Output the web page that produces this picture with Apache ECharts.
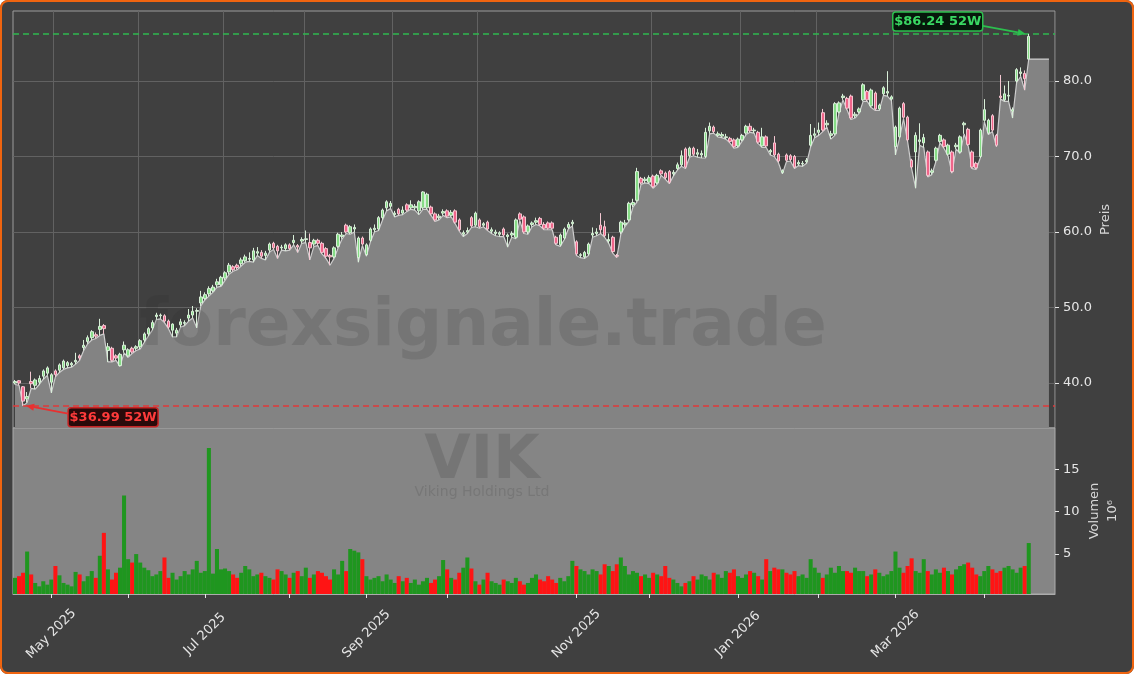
<!DOCTYPE html>
<html>
<head>
<meta charset="utf-8">
<script src="https://cdn.jsdelivr.net/npm/echarts@6/dist/echarts.min.js"></script>
<style>
html, body { margin: 0; padding: 0; background: #ffffff; }
#wrap { position: relative; width: 1134px; height: 674px; }
#main { position: absolute; left: 0; top: 0; width: 1134px; height: 674px; border-radius: 8px; overflow: hidden; }
#frame { position: absolute; left: 0; top: 0; width: 1134px; height: 674px; box-sizing: border-box;
         border: 2px solid #f0640f; border-radius: 8px; pointer-events: none; }
</style>
</head>
<body>
<div id="wrap"><div id="main"></div><div id="frame"></div></div>
<script>
// daily candles VIK, [open, close, low, high]
const ohlc = [
  [40.0,40.2,39.8,40.4],[40.3,40.0,39.7,40.4],[39.5,37.6,36.99,39.6],[37.9,38.2,37.4,38.8],[40.2,39.9,39.3,41.5],
  [39.7,40.4,39.2,40.6],[40.1,40.6,39.8,41.0],[40.9,41.6,40.5,41.8],[41.3,42.0,41.0,42.2],[40.1,41.1,38.7,41.3],
  [41.6,41.1,40.8,41.8],[41.7,42.4,41.4,42.6],[42.0,42.9,41.8,43.1],[42.3,42.7,42.0,42.9],[42.4,42.6,42.1,42.8],
  [42.8,43.0,42.5,44.0],[43.6,43.3,43.0,43.8],[44.7,45.0,44.3,45.7],[45.5,46.0,45.2,46.3],[46.0,46.8,45.7,47.0],
  [46.4,46.2,45.9,46.7],[47.1,47.5,46.3,48.5],[47.6,47.2,46.5,47.8],[44.3,44.8,42.8,45.3],[44.6,43.0,42.8,44.8],
  [43.6,43.3,43.0,43.8],[42.3,43.8,42.2,44.0],[44.4,45.0,44.0,45.5],[43.6,44.4,43.4,44.6],[44.6,44.1,43.9,44.8],
  [44.6,44.8,44.3,45.0],[44.8,45.6,44.5,45.8],[45.7,46.5,45.4,46.7],[46.5,47.2,46.2,47.4],[47.3,48.0,47.0,48.3],
  [48.8,49.0,48.4,49.3],[48.9,49.0,48.5,49.2],[48.9,48.2,48.0,49.1],[48.2,47.4,47.2,48.4],

  [47.0,47.8,46.1,47.9],[46.6,47.0,46.1,47.3],[47.7,48.1,47.4,48.5],[47.9,48.0,47.6,48.3],[48.6,49.0,48.2,49.8],
  [49.0,49.5,48.6,50.2],[49.5,49.6,47.3,49.9],[50.6,51.4,50.2,52.2],[51.2,51.7,51.0,52.0],[51.8,52.5,51.5,52.8],
  [52.2,52.7,52.0,53.0],[53.0,53.4,52.7,53.8],[53.0,54.0,52.8,54.2],[53.9,54.6,53.6,54.8],[54.7,55.6,54.4,55.9],
  [55.4,55.0,54.8,55.6],[55.6,55.3,55.0,55.8],[55.8,56.3,55.5,56.6],[56.2,56.7,56.0,57.0],[56.4,56.5,56.1,57.3],
  [56.3,57.5,56.0,57.9],[57.2,57.4,56.9,58.0],[57.3,56.8,56.5,57.6],[56.9,57.2,56.3,57.5],[57.6,58.4,57.3,58.6],
  [58.5,57.9,57.7,58.7],[58.1,57.5,56.5,58.3],[57.9,58.0,57.6,58.3],[57.8,58.3,57.5,58.5],[58.3,57.8,57.6,58.5],
  [58.6,58.9,58.3,59.6],[58.2,58.0,57.3,58.4],[58.8,59.0,58.5,59.3],[59.0,59.1,58.6,60.2],[58.6,57.9,56.3,59.8],
  [58.4,58.9,58.1,59.1],[58.9,58.5,58.2,59.1],

  [58.5,57.3,57.1,58.7],[57.8,56.8,56.5,58.0],[56.9,56.7,55.6,57.1],[56.7,57.9,56.5,58.1],[58.1,59.7,57.9,59.9],
  [59.4,59.6,59.1,60.0],[60.9,60.0,59.8,61.1],[59.9,60.7,59.7,60.9],[60.4,60.6,60.0,61.0],[56.6,59.2,56.0,59.4],
  [59.2,58.4,58.2,59.4],[57.0,58.3,56.8,58.5],[58.9,60.4,58.7,60.6],[60.3,60.5,60.0,61.0],[60.4,61.9,60.2,62.1],
  [61.9,62.9,61.6,63.1],[63.2,64.0,62.8,64.2],[63.4,63.8,63.1,64.1],[62.3,62.5,62.0,62.8],[63.0,62.4,62.2,63.2],
  [62.5,62.9,62.3,63.4],[63.6,62.9,62.7,63.8],[63.2,63.6,63.0,64.2],[63.2,63.4,62.9,63.7],[62.8,64.0,62.3,64.2],
  [63.2,65.3,63.0,65.4],[63.2,65.0,63.0,65.2],[63.3,62.4,62.2,63.5],[62.4,61.6,61.4,62.6],[61.9,62.1,61.6,62.4],
  [62.5,62.7,62.2,63.0],[62.8,62.1,61.9,63.0],[62.2,62.6,62.0,62.9],[62.8,61.3,61.1,63.0],[61.6,60.3,60.1,61.8],
  [59.7,59.9,59.4,60.2],[60.0,60.2,59.8,60.6],

  [61.9,60.8,60.6,62.1],[60.9,62.5,60.7,62.7],[61.6,60.7,60.5,61.8],[60.9,61.1,60.7,61.3],[61.3,60.4,60.2,61.5],
  [60.1,60.3,59.8,60.6],[59.8,60.0,59.5,60.3],[59.7,59.9,59.4,60.1],[60.4,59.6,59.4,60.6],[59.4,59.6,58.0,59.8],
  [59.6,59.8,59.3,60.1],[59.3,61.6,59.1,61.8],[62.4,61.7,61.5,62.6],[62.0,60.0,59.8,62.2],[60.0,60.8,59.7,61.0],
  [61.0,61.2,60.7,61.4],[61.3,61.5,61.0,61.9],[61.8,61.0,60.8,62.0],[61.0,60.5,60.3,61.3],[61.2,60.5,60.3,61.4],
  [61.2,60.5,60.3,61.4],[59.3,58.5,58.3,59.5],[58.3,59.6,58.1,59.8],[59.2,60.4,59.0,60.6],[60.6,61.0,60.4,61.3],
  [61.1,61.3,60.8,61.6],[58.7,57.1,56.9,58.9],[56.9,57.0,56.6,57.2],[56.7,57.3,56.5,57.5],[57.1,58.4,56.9,58.6],
  [59.6,59.8,59.3,60.6],[59.8,60.0,59.5,60.5],[60.9,60.3,59.8,62.5],[60.7,59.5,59.3,61.5],[58.8,59.0,58.5,59.8],
  [59.3,57.4,57.2,59.5],[56.9,56.8,56.6,57.1],

  [60.0,61.3,59.7,61.5],[61.0,61.2,60.7,61.6],[61.6,63.8,61.4,64.0],[63.6,63.9,63.3,64.4],[64.2,68.0,64.0,68.5],
  [67.1,66.5,66.3,67.3],[66.8,67.0,66.5,67.3],[66.6,67.2,66.4,67.5],[67.4,66.0,65.8,67.6],[66.5,67.5,66.3,67.7],
  [68.1,67.7,67.5,68.3],[67.8,67.2,67.0,68.0],[68.0,66.6,66.4,68.2],[67.7,67.9,67.4,68.2],[68.4,68.9,68.2,69.2],
  [68.9,70.1,68.7,70.8],[71.0,68.6,68.4,71.2],[70.1,71.1,69.9,71.3],[71.1,70.3,70.1,71.3],[70.3,70.5,69.9,71.0],
  [70.2,70.4,69.8,70.8],[70.0,73.2,69.8,73.8],[73.4,74.0,73.0,74.5],[73.9,73.3,73.1,74.1],[72.8,73.0,72.6,73.3],
  [72.7,72.9,72.5,73.2],[72.5,72.6,72.3,73.0],[72.4,72.0,71.8,72.6],[72.2,71.3,71.1,72.4],[71.4,72.3,71.2,72.5],
  [72.2,72.8,72.0,73.0],[73.1,74.0,72.9,74.2],[74.0,73.4,73.2,74.4],[73.4,73.5,73.1,73.8],[73.2,71.9,71.7,73.4],
  [71.4,72.6,71.2,73.8],[72.6,71.4,71.2,72.8],[70.6,70.8,70.2,71.0],

  [71.8,70.2,70.0,72.7],[70.3,69.4,69.2,70.5],[67.9,68.1,67.7,68.3],[70.2,69.5,69.3,70.4],[70.1,69.6,69.4,70.3],
  [70.0,68.6,68.4,70.2],[69.0,69.2,68.8,69.5],[69.0,69.1,68.7,69.4],[69.3,69.5,69.1,69.8],[71.5,72.8,71.3,74.3],
  [72.8,73.0,72.5,73.8],[73.2,73.5,72.8,74.5],[75.8,73.5,73.3,76.3],[74.2,74.4,73.9,74.8],[72.8,73.0,72.3,73.4],
  [73.0,77.0,72.8,77.2],[75.9,77.1,75.7,77.3],[77.8,78.0,77.5,78.3],[77.7,76.4,76.2,77.9],[78.0,75.1,74.9,78.2],
  [75.4,75.6,75.1,75.9],[75.9,76.3,75.7,76.5],[77.5,79.5,77.3,79.7],[78.6,77.5,77.3,78.8],[76.7,78.8,76.5,79.0],
  [78.4,76.3,76.1,78.6],[76.3,76.8,76.1,77.0],[78.3,79.1,78.1,79.3],[78.4,78.6,78.0,81.3],[77.6,77.9,77.4,78.1],
  [71.3,73.9,70.2,74.1],[72.6,76.4,72.4,76.6],[77.0,75.2,75.0,77.2],[75.2,72.2,72.0,75.4],

  [69.5,68.6,68.4,69.7],[70.6,72.8,65.8,73.2],[72.0,72.2,71.5,74.4],[71.8,72.5,71.2,73.0],[70.6,67.5,67.3,70.8],
  [67.9,68.1,67.6,68.4],[69.5,71.1,69.3,71.3],[72.0,72.8,71.8,73.0],[72.2,71.3,71.1,72.4],[70.3,71.5,70.1,71.7],
  [70.6,68.0,67.8,70.8],[71.3,71.5,71.0,71.8],[70.6,72.6,70.4,72.8],[74.2,74.4,73.0,74.6],[73.6,71.6,71.4,73.8],
  [70.6,68.6,68.4,70.8],[69.1,68.5,68.3,69.3],[70.0,73.5,69.8,73.7],[74.8,76.2,74.6,77.6],[73.1,74.8,72.9,75.0],
  [75.4,73.5,73.3,75.6],[72.8,71.5,71.3,73.0],[78.0,77.8,77.6,80.8],[77.5,78.3,77.3,79.4],[78.0,78.1,77.3,80.0],
  [76.0,76.2,75.1,76.5],[80.0,81.5,79.8,81.7],[81.0,81.2,80.6,81.8],[81.0,80.3,78.8,81.4],[82.9,85.9,82.9,86.24]
];

// volume in millions
const volume = [
  2.2, 2.4, 2.8, 5.3, 2.6, 1.6, 1.2, 1.8, 1.4, 2.0,
  3.6, 2.5, 1.6, 1.4, 1.2, 2.9, 2.6, 1.8, 2.4, 3.0,
  2.2, 4.8, 7.5, 3.2, 2.0, 2.8, 3.4, 11.9, 4.4, 4.0,
  5.0, 4.0, 3.4, 3.1, 2.4, 2.6, 3.0, 4.6, 2.2, 2.8,
  2.0, 2.4, 3.0, 2.6, 3.2, 4.2, 2.8, 3.0, 17.5, 2.7,
  5.6, 3.2, 3.3, 3.0, 2.6, 2.2, 2.8, 3.6, 3.2, 2.4,
  2.6, 2.8, 2.4, 2.2, 2.0, 3.2, 3.0, 2.6, 2.2, 2.8,
  3.0, 2.4, 3.4, 2.2, 2.6, 3.0, 2.8, 2.4, 2.0, 3.2,
  2.6, 4.2, 3.0, 5.6, 5.4, 5.2, 4.4, 2.4, 2.0, 2.2,
  2.4, 1.8, 2.6, 2.0, 1.6, 2.4, 1.8, 2.2, 1.6, 2.0,
  1.4, 1.8, 2.2, 1.6, 2.0, 2.4, 4.3, 3.2, 2.2, 2.0,
  2.8, 3.4, 4.6, 3.3, 1.8, 1.4, 2.0, 2.8, 1.8, 1.6,
  1.4, 2.0, 1.8, 1.6, 2.2, 1.8, 1.4, 1.6, 2.2, 2.6,
  2.0, 1.8, 2.4, 2.0, 1.6, 2.2, 1.8, 2.4, 4.2, 3.6,
  3.2, 3.0, 2.6, 3.2, 3.0, 2.6, 3.8, 3.6, 3.0, 3.8,
  4.6, 3.6, 2.6, 3.0, 2.8, 2.4, 2.6, 2.2, 2.8, 2.6,
  2.4, 3.6, 2.2, 2.0, 1.6, 1.2, 1.6, 1.8, 2.4, 2.0,
  2.6, 2.4, 2.0, 2.8, 2.6, 2.2, 3.0, 2.8, 3.2, 2.4,
  2.2, 2.6, 3.0, 2.8, 2.4, 2.0, 4.4, 3.0, 3.4, 3.2,
  3.2, 2.8, 2.6, 3.0, 2.4, 2.6, 2.2, 4.4, 3.4, 2.8,
  2.2, 2.6, 3.4, 2.8, 3.6, 3.0, 3.0, 2.8, 3.4, 3.0,
  3.0, 2.4, 2.6, 3.2, 2.8, 2.4, 2.6, 3.0, 5.3, 3.4,
  2.8, 3.6, 4.5, 3.0, 2.8, 4.4, 3.0, 2.6, 3.2, 2.8,
  3.4, 3.0, 2.6, 3.2, 3.6, 3.8, 4.0, 3.4, 2.6, 2.4,
  3.0, 3.6, 3.2, 2.8, 3.0, 3.4, 3.6, 3.2, 2.8, 3.4,
  3.6, 6.3
];

// flat shading after the last candle
const tailLow = [82.9, 82.9, 82.9, 82.9, 82.9];

const hi52 = 86.24;
const lo52 = 36.99;

const priceTicks = [40, 50, 60, 70, 80];
const volTicks = [5, 10, 15];

// bottom axis: month ticks, every second one labelled
const tickIdx = [9, 28, 47, 68, 87, 107, 139, 157, 179, 199, 218, 240];
const labelIdx = [9, 47, 87, 139, 179, 218];
const tickLabels = ['May 2025', 'Jul 2025', 'Sep 2025', 'Nov 2025', 'Jan 2026', 'Mar 2026'];
// vertical grid lines of the price panel
const gridIdx = [10, 31, 52, 72, 94, 115, 158, 180, 199, 218, 240];

const nCats = ohlc.length + tailLow.length + 1;
const cats = [];
for (let i = 0; i < nCats; i++) cats.push(String(i));

const lows = ohlc.map(r => r[2]).concat(tailLow);

const volData = volume.map((v, i) => ({
  value: v,
  itemStyle: { color: ohlc[i][1] >= ohlc[i][0] ? '#1f961f' : '#ff1414' }
}));

const font = '"DejaVu Sans", "Liberation Sans", sans-serif';
const txt = '#e6e6e6';

const chart = echarts.init(document.getElementById('main'));

chart.setOption({
  backgroundColor: '#404040',
  animation: false,
  grid: [
    { left: 13, right: 79, top: 11, height: 417, show: true, borderColor: '#9c9c9c', borderWidth: 1,
      backgroundColor: 'transparent', outerBoundsMode: 'none' },
    { left: 13, right: 79, top: 428, height: 166, show: true, borderColor: '#acacac', borderWidth: 1,
      backgroundColor: '#858585', outerBoundsMode: 'none' }
  ],
  xAxis: [
    {
      type: 'category', gridIndex: 0, data: cats, boundaryGap: true,
      axisLine: { show: false }, axisTick: { show: false }, axisLabel: { show: false },
      splitLine: { show: true, interval: (i) => gridIdx.includes(i), lineStyle: { color: '#626262', width: 1 } }
    },
    {
      type: 'category', gridIndex: 1, data: cats, boundaryGap: true,
      axisLine: { show: true, lineStyle: { color: '#acacac' } },
      axisTick: { show: true, alignWithLabel: true, interval: (i) => tickIdx.includes(i), length: 4,
                  lineStyle: { color: '#e6e6e6' } },
      axisLabel: {
        interval: (i) => labelIdx.includes(i),
        formatter: (v, i) => tickLabels[labelIdx.indexOf(i)] || '',
        rotate: 45, align: 'center', verticalAlign: 'middle', margin: 40,
        color: txt, fontSize: 13, fontFamily: font
      },
      splitLine: { show: false }
    }
  ],
  yAxis: [
    {
      type: 'value', gridIndex: 0, position: 'right', min: 34.04, max: 89.27,
      axisLine: { show: false },
      axisTick: { show: true, customValues: priceTicks, length: 4, lineStyle: { color: '#e6e6e6' } },
      axisLabel: { customValues: priceTicks, color: txt, fontSize: 13, fontFamily: font, margin: 8,
                   formatter: (v) => v.toFixed(1) },
      splitLine: { show: true, lineStyle: { color: '#626262', width: 1 } },
      name: 'Preis', nameLocation: 'middle', nameRotate: 90, nameGap: 44, nameMoveOverlap: false,
      nameTextStyle: { color: '#d8d8d8', fontSize: 13, fontFamily: font }
    },
    {
      type: 'value', gridIndex: 1, position: 'right', min: 0.3, max: 19.85,
      axisLine: { show: false },
      axisTick: { show: true, customValues: volTicks, length: 4, lineStyle: { color: '#e6e6e6' } },
      axisLabel: { customValues: volTicks, color: txt, fontSize: 13, fontFamily: font, margin: 8 },
      splitLine: { show: false },
      name: 'Volumen\n10⁶', nameLocation: 'middle', nameRotate: 90, nameGap: 31, nameMoveOverlap: false,
      nameTextStyle: { color: '#d8d8d8', fontSize: 13, fontFamily: font, lineHeight: 18 }
    }
  ],
  series: [
    {
      type: 'line', xAxisIndex: 0, yAxisIndex: 0, data: lows, symbol: 'none', silent: true, z: 1,
      lineStyle: { color: '#cdcdcd', width: 1.2 },
      areaStyle: { color: '#838383', opacity: 1, origin: 'start' }
    },
    {
      type: 'candlestick', xAxisIndex: 0, yAxisIndex: 0, data: ohlc, barWidth: 3, z: 5,
      itemStyle: { color: '#86dc86', color0: '#f0658a', borderColor: '#d9efd9', borderColor0: '#f4c8d2', borderWidth: 1 },
      markLine: {
        silent: true, symbol: 'none', label: { show: false },
        data: [
          { yAxis: hi52, lineStyle: { color: '#2fb84f', type: [6, 4], width: 1.5 } },
          { yAxis: lo52, lineStyle: { color: '#e03a3a', type: [6, 4], width: 1.5 } }
        ]
      }
    },
    {
      type: 'bar', xAxisIndex: 1, yAxisIndex: 1, data: volData, barCategoryGap: '0%', z: 3
    }
  ]
});

// watermark and 52-week annotations
function arrow(x1, y1, x2, y2, color) {
  const dx = x2 - x1, dy = y2 - y1, len = Math.sqrt(dx * dx + dy * dy);
  const ux = dx / len, uy = dy / len, bx = x2 - ux * 8, by = y2 - uy * 8;
  return [
    { type: 'line', z: 20, shape: { x1: x1, y1: y1, x2: bx, y2: by }, style: { stroke: color, lineWidth: 1.8 } },
    { type: 'polygon', z: 20, shape: { points: [[x2, y2], [bx - uy * 3.5, by + ux * 3.5], [bx + uy * 3.5, by - ux * 3.5]] },
      style: { fill: color } }
  ];
}

function badge(x, y, label, fg, bg, border) {
  return [
    { type: 'rect', z: 20, shape: { x: x, y: y, width: 90, height: 19, r: 3 },
      style: { fill: bg, stroke: border, lineWidth: 1.5 } },
    { type: 'text', z: 21, x: x + 45, y: y + 10,
      style: { text: label, fill: fg, font: 'bold 13px ' + font, align: 'center', verticalAlign: 'middle' } }
  ];
}

let hiIdx = 0, loIdx = 0;
ohlc.forEach((r, i) => {
  if (r[3] > ohlc[hiIdx][3]) hiIdx = i;
  if (r[2] < ohlc[loIdx][2]) loIdx = i;
});
const pHi = chart.convertToPixel({ xAxisIndex: 0, yAxisIndex: 0 }, [hiIdx, hi52]);
const pLo = chart.convertToPixel({ xAxisIndex: 0, yAxisIndex: 0 }, [loIdx, lo52]);

const wm = 'rgba(40,40,40,0.15)';
const elements = [
  { type: 'text', z: 2, x: 483, y: 328, silent: true,
    style: { text: 'forexsignale.trade', fill: wm, font: 'bold 66px ' + font, align: 'center', verticalAlign: 'middle' } },
  { type: 'text', z: 2, x: 482, y: 462, silent: true,
    style: { text: 'VIK', fill: 'rgba(40,40,40,0.17)', font: 'bold 60px ' + font, align: 'center', verticalAlign: 'middle' } },
  { type: 'text', z: 2, x: 482, y: 492, silent: true,
    style: { text: 'Viking Holdings Ltd', fill: wm, font: '14px ' + font, align: 'center', verticalAlign: 'middle' } }
]
  .concat(badge(pHi[0] - 136, pHi[1] - 22, '$' + hi52.toFixed(2) + ' 52W', '#3ad863', '#06180b', '#2cbf4e'))
  .concat(arrow(pHi[0] - 46, pHi[1] - 8, pHi[0] - 3, pHi[1], '#2cbf4e'))
  .concat(badge(pLo[0] + 45, pLo[1] + 2, '$' + lo52.toFixed(2) + ' 52W', '#ff3b3b', '#2a0a0a', '#c82424'))
  .concat(arrow(pLo[0] + 45, pLo[1] + 8, pLo[0] + 3, pLo[1], '#e83030'));

chart.setOption({ graphic: elements });
</script>
</body>
</html>
